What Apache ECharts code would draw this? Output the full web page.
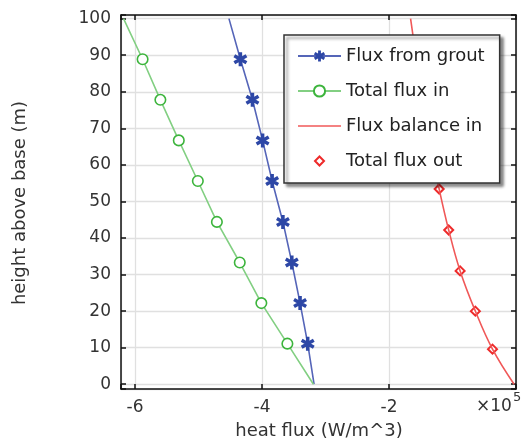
<!DOCTYPE html>
<html>
<head>
<meta charset="utf-8">
<script src="https://cdn.jsdelivr.net/npm/echarts@6/dist/echarts.min.js"></script>
<style>
  html, body { margin: 0; padding: 0; background: #fff; }
  #chart { width: 521px; height: 442px; }
</style>
</head>
<body>
<div id="chart"></div>
<script>
// heights along the borehole (m)
var heights = [0, 11.1, 22.2, 33.3, 44.4, 55.6, 66.7, 77.8, 88.9, 100]
// heat flux values, x 10^5 W/m^3
var groutFlux = [-3.18, -3.28, -3.40, -3.53, -3.67, -3.84, -3.99, -4.15, -4.34, -4.52]
var totalIn = [-3.19, -3.60, -4.01, -4.35, -4.71, -5.01, -5.31, -5.60, -5.88, -6.18]

var balanceHeights = [0, 9.6, 20.0, 31.0, 42.2, 53.4, 64.5, 75.6, 86.7, 100]
var balanceFlux = [-0.03, -0.37, -0.64, -0.88, -1.06, -1.21, -1.34, -1.45, -1.55, -1.66]

var outHeights = [9.6, 20.0, 31.0, 42.2, 53.4, 64.5, 75.6, 86.7]
var outFlux = [-0.37, -0.64, -0.88, -1.06, -1.21, -1.34, -1.45, -1.55]

var xTickLabels = [-6, -4, -2]
var yTickLabels = [0, 10, 20, 30, 40, 50, 60, 70, 80, 90, 100]

var xMin = -6.22, xMax = 0
var yMin = -1.3, yMax = 101

var FONT = 'DejaVu Sans'
// six armed asterisk, three bars
var asterisk = 'path://M7.5 20L12.5 20L12.5 0L7.5 0Z' +
  'M17.41 17.165L19.91 12.835L2.59 2.835L0.09 7.165Z' +
  'M0.09 12.835L2.59 17.165L19.91 7.165L17.41 2.835Z'
// legend icons: a thin bar and a small diamond padded inside a square box
var lineIcon = 'path://M0 0L40 0L40 1.6L0 1.6Z'
var diamondIcon = 'path://M0 0M14 14M7 2.5L11.5 7L7 11.5L2.5 7Z'

// endpoints of the curves carry no marker
function withMarkers(xs, ys) {
  return xs.map(function (x, i) {
    var item = { value: [x, ys[i]] }
    if (i === 0 || i === xs.length - 1) item.symbol = 'none'
    return item
  })
}

function pairs(xs, ys) {
  return xs.map(function (x, i) { return [x, ys[i]] })
}

function hasLabel(list, v) {
  return list.some(function (t) { return Math.abs(t - v) < 1e-6 })
}

var myChart = echarts.init(document.getElementById('chart'))

var axisLine = { show: true, onZero: false, lineStyle: { color: '#111', width: 1.5 } }
var axisTick = { show: true, inside: true, length: 5, lineStyle: { color: '#111', width: 1.5 } }

var option = {
  animation: false,
  backgroundColor: '#fff',
  grid: { left: 121, top: 15, width: 395, height: 374 },
  xAxis: [
    {
      type: 'value', min: xMin, max: xMax, splitNumber: 3, position: 'bottom',
      axisLine: axisLine, axisTick: axisTick,
      axisLabel: {
        margin: 10, fontSize: 17, fontFamily: FONT, color: '#333',
        formatter: function (v) { return hasLabel(xTickLabels, v) ? String(v) : '' }
      },
      splitLine: { show: true, lineStyle: { color: '#e0e0e0', width: 1.3 } }
    },
    {
      type: 'value', min: xMin, max: xMax, splitNumber: 3, position: 'top',
      axisLine: axisLine, axisTick: axisTick,
      axisLabel: { show: false }, splitLine: { show: false }
    }
  ],
  yAxis: [
    {
      type: 'value', min: yMin, max: yMax, splitNumber: 10, position: 'left',
      axisLine: axisLine, axisTick: axisTick,
      axisLabel: {
        margin: 10, fontSize: 17, fontFamily: FONT, color: '#333',
        formatter: function (v) { return hasLabel(yTickLabels, v) ? String(Math.round(v)) : '' }
      },
      splitLine: { show: true, lineStyle: { color: '#e0e0e0', width: 1.3 } }
    },
    {
      type: 'value', min: yMin, max: yMax, splitNumber: 10, position: 'right',
      axisLine: axisLine, axisTick: axisTick,
      axisLabel: { show: false }, splitLine: { show: false }
    }
  ],
  legend: {
    orient: 'vertical', left: 284, top: 35,
    padding: [11, 15, 12, 13],
    itemWidth: 43, itemHeight: 14, itemGap: 15,
    symbolKeepAspect: true,
    backgroundColor: '#fff', borderColor: '#333', borderWidth: 1.5,
    shadowColor: 'rgba(0,0,0,0.45)', shadowBlur: 3, shadowOffsetX: 3, shadowOffsetY: 3,
    textStyle: { fontFamily: FONT, fontSize: 18, color: '#222', lineHeight: 20 },
    data: [
      { name: 'Flux from grout' },
      { name: 'Total flux in' },
      { name: 'Flux balance in', icon: lineIcon },
      { name: 'Total flux out', icon: diamondIcon }
    ]
  },
  graphic: [
    {
      type: 'text', x: 319, y: 431,
      style: { text: 'heat flux (W/m^3)', font: '18px "DejaVu Sans"', fill: '#333', align: 'center', verticalAlign: 'middle' }
    },
    {
      type: 'text', x: 20, y: 203, rotation: Math.PI / 2,
      style: { text: 'height above base (m)', font: '18px "DejaVu Sans"', fill: '#333', align: 'center', verticalAlign: 'middle' }
    },
    {
      type: 'text', x: 476, y: 407,
      style: { text: '×10', font: '17px "DejaVu Sans"', fill: '#333', align: 'left', verticalAlign: 'middle' }
    },
    {
      type: 'text', x: 513, y: 398,
      style: { text: '5', font: '13px "DejaVu Sans"', fill: '#333', align: 'left', verticalAlign: 'middle' }
    }
  ],
  series: [
    {
      name: 'Flux from grout', type: 'line',
      symbol: asterisk, symbolSize: 14, symbolKeepAspect: true,
      lineStyle: { color: '#5565b8', width: 1.6 },
      itemStyle: { color: '#2d47a6' },
      data: withMarkers(groutFlux, heights)
    },
    {
      name: 'Total flux in', type: 'line',
      symbol: 'circle', symbolSize: 10.5,
      lineStyle: { color: '#82cf82', width: 1.6 },
      itemStyle: { color: '#fff', borderColor: '#3cb43c', borderWidth: 1.6 },
      data: withMarkers(totalIn, heights)
    },
    {
      name: 'Flux balance in', type: 'line',
      symbol: 'none', smooth: 0.4,
      lineStyle: { color: '#f05858', width: 1.6 },
      itemStyle: { color: '#f05858' },
      data: pairs(balanceFlux, balanceHeights)
    },
    {
      name: 'Total flux out', type: 'scatter',
      symbol: 'diamond', symbolSize: 9,
      itemStyle: { color: '#fff', borderColor: '#ee2a2a', borderWidth: 2, opacity: 1 },
      data: pairs(outFlux, outHeights)
    }
  ]
}

myChart.setOption(option)
</script>
</body>
</html>
